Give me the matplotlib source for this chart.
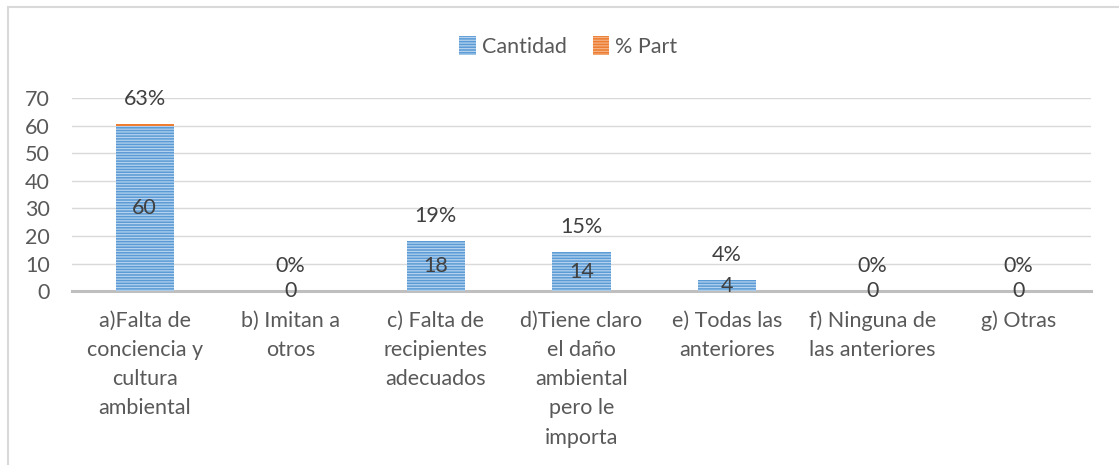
import numpy as np
import matplotlib.pyplot as plt
from matplotlib.patches import Patch, Rectangle

plt.rcParams['font.family'] = ['Lato', 'DejaVu Sans']
plt.rcParams['hatch.linewidth'] = 0.9

# survey answers
categorias = ["a)Falta de\nconciencia y\ncultura\nambiental",
              "b) Imitan a\notros",
              "c) Falta de\nrecipientes\nadecuados",
              "d)Tiene claro\nel daño\nambiental\npero le\nimporta",
              "e) Todas las\nanteriores",
              "f) Ninguna de\nlas anteriores",
              "g) Otras"]
cantidad = [60, 0, 18, 14, 4, 0, 0]
part = [0.63, 0.0, 0.19, 0.15, 0.04, 0.0, 0.0]

azul = '#5B9BD5'
raya = '#B4D2EE'
naranja = '#ED7D31'
gris_txt = '#595959'
fs = 15.5

fig = plt.figure(figsize=(11.19, 4.65), dpi=100)
ax = fig.add_axes([0.0643, 0.374, 0.9107, 0.415])

x = np.arange(len(categorias))
ancho = 0.4
ax.bar(x, cantidad, ancho, color=azul, edgecolor=raya, linewidth=0, hatch='------', zorder=3)
ax.bar(x, part, ancho, bottom=cantidad, color=naranja, edgecolor=naranja, linewidth=0, zorder=3)

# value labels
for xi, c, p in zip(x, cantidad, part):
    ax.text(xi, c / 2, str(c), ha='center', va='center', fontsize=fs, color='#404040', zorder=4)
    ax.annotate(f"{p:.0%}", (xi, c + p), xytext=(0, 18), textcoords='offset points',
                ha='center', va='center', fontsize=fs, color='#404040', zorder=4)

ax.set_xlim(-0.5, len(categorias) - 0.5)
ax.set_ylim(0, 70)
ax.set_yticks(range(0, 71, 10))
ax.set_xticks(x)
ax.set_xticklabels(categorias, fontsize=fs, color=gris_txt, linespacing=1.58)
ax.tick_params(axis='y', length=0, pad=16, labelsize=fs, labelcolor=gris_txt)
ax.tick_params(axis='x', length=0, pad=14)
ax.grid(axis='y', color='#D9D9D9', linewidth=1, zorder=0)
for s in ['top', 'right', 'left']:
    ax.spines[s].set_visible(False)
ax.spines['bottom'].set_color('#BFBFBF')
ax.spines['bottom'].set_linewidth(2.2)
ax.spines['bottom'].set_zorder(2)

handles = [Patch(facecolor=azul, edgecolor=raya, linewidth=0, hatch='------', label='Cantidad'),
           Patch(facecolor=naranja, edgecolor='#F4B183', linewidth=0, hatch='------', label='% Part')]
fig.legend(handles=handles, loc='center', bbox_to_anchor=(0.508, 0.901), ncol=2, frameon=False,
           fontsize=fs, labelcolor=gris_txt, handlelength=0.75, handleheight=1.0,
           handletextpad=0.3, columnspacing=1.2)

# chart border
fig.patches.append(Rectangle((8 / 1119, -0.1), 1.1, 1.1 - 7 / 465, transform=fig.transFigure,
                             fill=False, edgecolor='#D9D9D9', linewidth=1.5))

fig.savefig('out.png', dpi=100)
